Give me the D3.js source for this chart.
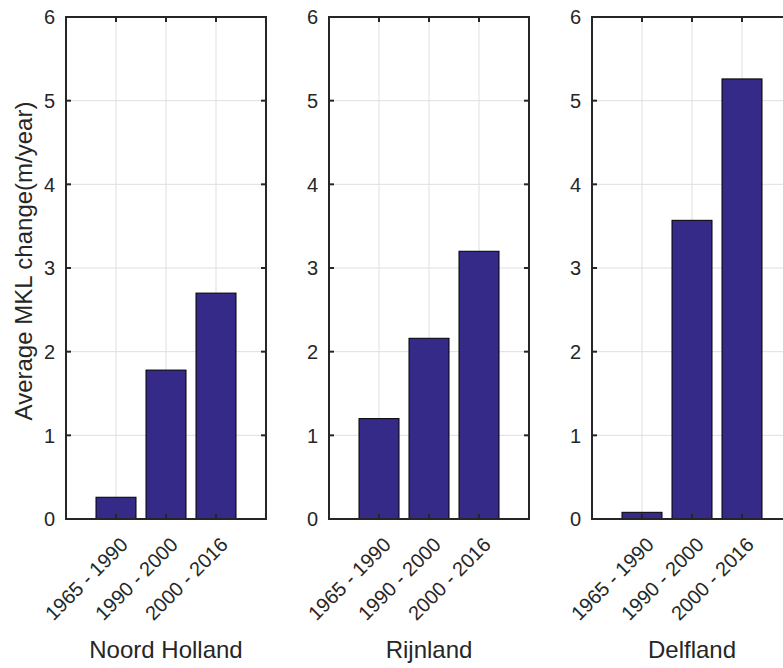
<!DOCTYPE html>
<html>
<head>
<meta charset="utf-8">
<script src="https://cdn.jsdelivr.net/npm/d3@7"></script>
<style>
  body { margin: 0; background: #fff; }
  svg { display: block; font-family: Arial, "Liberation Sans", sans-serif; }
</style>
</head>
<body>
<div id="chart"></div>
<script>
// Data
const periods = ["1965 - 1990", "1990 - 2000", "2000 - 2016"];
const regions = ["Noord Holland", "Rijnland", "Delfland"];
const noordHolland = [0.26, 1.78, 2.70];
const rijnland = [1.20, 2.16, 3.20];
const delfland = [0.08, 3.57, 5.26];
const seriesByRegion = [noordHolland, rijnland, delfland];
const yTicks = [0, 1, 2, 3, 4, 5, 6];

const width = 783, height = 668;
const panelLeft = [66, 329, 592];
const panelW = 200;
const plotTop = 17, plotBottom = 519;
const ink = "#262626";

const svg = d3.select("#chart").append("svg")
    .attr("width", width)
    .attr("height", height);

const y = d3.scaleLinear().domain([0, 6]).range([plotBottom, plotTop]);

regions.forEach((name, p) => {
    const x0 = panelLeft[p];
    const x = d3.scaleLinear().domain([0, 4]).range([x0, x0 + panelW]);
    const g = svg.append("g");
    const values = seriesByRegion[p];

    // grid
    g.selectAll(".gx").data([1, 2, 3]).enter().append("line")
        .attr("x1", d => x(d)).attr("x2", d => x(d))
        .attr("y1", plotTop).attr("y2", plotBottom)
        .attr("stroke", "#dfdfdf").attr("stroke-width", 1);
    g.selectAll(".gy").data(yTicks.slice(1, -1)).enter().append("line")
        .attr("x1", x0).attr("x2", x0 + panelW)
        .attr("y1", d => y(d)).attr("y2", d => y(d))
        .attr("stroke", "#dfdfdf").attr("stroke-width", 1);

    // bars
    g.selectAll("rect").data(values).enter().append("rect")
        .attr("x", (d, i) => x(i + 1 - 0.4))
        .attr("width", x(0.8) - x(0))
        .attr("y", d => y(d))
        .attr("height", d => y(0) - y(d))
        .attr("fill", "#352a87")
        .attr("stroke", "#000")
        .attr("stroke-width", 1);

    // ticks (inward, all sides)
    const tl = 5;
    [1, 2, 3].forEach(t => {
        g.append("line").attr("x1", x(t)).attr("x2", x(t))
            .attr("y1", plotBottom).attr("y2", plotBottom - tl).attr("stroke", ink).attr("stroke-width", 2);
        g.append("line").attr("x1", x(t)).attr("x2", x(t))
            .attr("y1", plotTop).attr("y2", plotTop + tl).attr("stroke", ink).attr("stroke-width", 2);
    });
    yTicks.forEach(t => {
        g.append("line").attr("x1", x0).attr("x2", x0 + tl)
            .attr("y1", y(t)).attr("y2", y(t)).attr("stroke", ink).attr("stroke-width", 2);
        g.append("line").attr("x1", x0 + panelW).attr("x2", x0 + panelW - tl)
            .attr("y1", y(t)).attr("y2", y(t)).attr("stroke", ink).attr("stroke-width", 2);
    });

    // box
    g.append("rect")
        .attr("x", x0).attr("y", plotTop)
        .attr("width", panelW).attr("height", plotBottom - plotTop)
        .attr("fill", "none").attr("stroke", ink).attr("stroke-width", 2);

    // y tick labels
    g.selectAll(".yl").data(yTicks).enter().append("text")
        .attr("x", x0 - 11).attr("y", d => y(d))
        .attr("dy", "0.36em")
        .attr("text-anchor", "end")
        .attr("font-size", 20)
        .attr("fill", ink)
        .text(d => d);

    // x tick labels, rotated
    g.selectAll(".xl").data(periods).enter().append("text")
        .attr("transform", (d, i) => `translate(${x(i + 1) + 13},${plotBottom + 27}) rotate(-45)`)
        .attr("text-anchor", "end")
        .attr("font-size", 20)
        .attr("fill", ink)
        .text(d => d);

    // x label
    g.append("text")
        .attr("x", x(2)).attr("y", 658)
        .attr("text-anchor", "middle")
        .attr("font-size", 24)
        .attr("fill", ink)
        .text(name);
});

// y label
svg.append("text")
    .attr("transform", "translate(32,261) rotate(-90)")
    .attr("text-anchor", "middle")
    .attr("font-size", 24)
    .attr("fill", ink)
    .text("Average MKL change(m/year)");
</script>
</body>
</html>
